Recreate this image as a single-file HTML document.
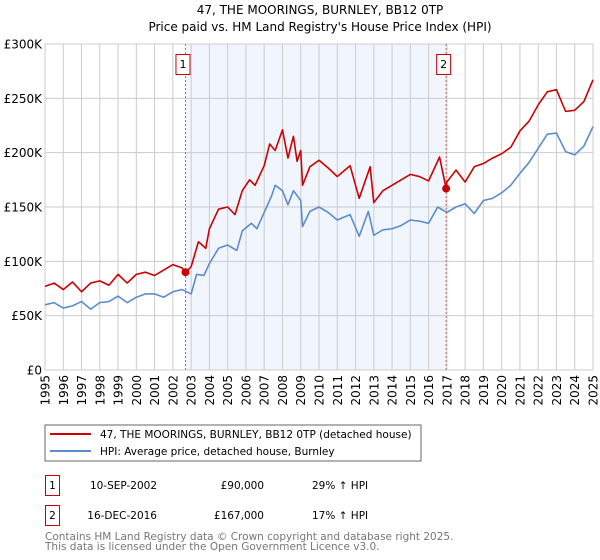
<!DOCTYPE html>
<html><head><meta charset="utf-8"><style>
body{margin:0;background:#fff;width:600px;height:560px;overflow:hidden}
svg{display:block;font-family:"DejaVu Sans","Liberation Sans",sans-serif}
</style></head><body>
<svg id="c" width="600" height="560">
<text x="320" y="14" text-anchor="middle" font-size="12">47, THE MOORINGS, BURNLEY, BB12 0TP</text>
<text x="320" y="31" text-anchor="middle" font-size="12">Price paid vs. HM Land Registry's House Price Index (HPI)</text>
<g id="plot"></g>
<rect x="45" y="425" width="376" height="36" fill="none" stroke="#666"/>
<line x1="50" y1="434" x2="91" y2="434" stroke="#cc0000" stroke-width="2"/>
<text x="100" y="438" font-size="10.5">47, THE MOORINGS, BURNLEY, BB12 0TP (detached house)</text>
<line x1="50" y1="451" x2="91" y2="451" stroke="#5b8cd0" stroke-width="2"/>
<text x="100" y="455" font-size="10.5">HPI: Average price, detached house, Burnley</text>
<g font-size="10.5">
<rect x="45.5" y="475.5" width="14" height="20" fill="none" stroke="#cc0000"/>
<text x="52.5" y="489" text-anchor="middle">1</text>
<text x="157" y="489" text-anchor="end">10-SEP-2002</text>
<text x="264" y="489" text-anchor="end">£90,000</text>
<text x="312" y="489">29% ↑ HPI</text>
<rect x="45.5" y="505.5" width="14" height="20" fill="none" stroke="#cc0000"/>
<text x="52.5" y="519" text-anchor="middle">2</text>
<text x="157" y="519" text-anchor="end">16-DEC-2016</text>
<text x="264" y="519" text-anchor="end">£167,000</text>
<text x="312" y="519">17% ↑ HPI</text>
</g>
<text x="45" y="540" font-size="10.5" fill="#777">Contains HM Land Registry data © Crown copyright and database right 2025.</text>
<text x="45" y="550" font-size="10.5" fill="#777">This data is licensed under the Open Government Licence v3.0.</text>
</svg>
<script>
const yTicks=[0,50,100,150,200,250,300];
const yTickLabels=["£0","£50K","£100K","£150K","£200K","£250K","£300K"];
const xYears=[1995,1996,1997,1998,1999,2000,2001,2002,2003,2004,2005,2006,2007,2008,2009,2010,2011,2012,2013,2014,2015,2016,2017,2018,2019,2020,2021,2022,2023,2024,2025];
const hpiYears=[1995,1995.5,1996,1996.5,1997,1997.5,1998,1998.5,1999,1999.5,2000,2000.5,2001,2001.5,2002,2002.5,2003,2003.3,2003.7,2004,2004.5,2005,2005.5,2005.8,2006.3,2006.6,2007,2007.4,2007.6,2008,2008.3,2008.6,2009,2009.1,2009.5,2010,2010.5,2011,2011.7,2012.2,2012.7,2013,2013.5,2014,2014.5,2015,2015.5,2016,2016.5,2017,2017.5,2018,2018.5,2019,2019.5,2020,2020.5,2021,2021.5,2022,2022.5,2023,2023.5,2024,2024.5,2025];
const hpiValues=[60,62,57,59,63,56,62,63,68,62,67,70,70,67,72,74,70,88,87,98,112,115,110,128,135,130,145,160,170,165,152,165,156,132,146,150,145,138,143,123,146,124,129,130,133,138,137,135,150,145,150,153,144,156,158,163,170,181,191,204,217,218,201,198,206,224];
const priceYears=[1995,1995.5,1996,1996.5,1997,1997.5,1998,1998.5,1999,1999.5,2000,2000.5,2001,2001.5,2002,2002.5,2002.7,2003,2003.4,2003.8,2004,2004.5,2005,2005.4,2005.8,2006.2,2006.5,2007,2007.3,2007.6,2008,2008.3,2008.6,2008.8,2009,2009.1,2009.5,2010,2010.5,2011,2011.7,2012.2,2012.8,2013,2013.5,2014,2014.5,2015,2015.5,2016,2016.6,2016.96,2017,2017.5,2018,2018.5,2019,2019.5,2020,2020.5,2021,2021.5,2022,2022.5,2023,2023.5,2024,2024.5,2025];
const priceValues=[77,80,74,81,72,80,82,78,88,80,88,90,87,92,97,94,90,95,118,112,130,148,150,143,165,175,170,188,208,202,221,195,215,192,202,170,187,193,186,178,188,158,187,154,165,170,175,180,178,174,196,167,173,184,173,187,190,195,199,205,220,229,244,256,258,238,239,247,267];
const sales=[[2002.69,90],[2016.96,167]];
const X0=45,X1=593,Y0=370,Y1=44;
const xs=y=>X0+(y-1995)/30*(X1-X0);
const ys=v=>Y0-v/300*(Y0-Y1);
const NS="http://www.w3.org/2000/svg";
const g=document.getElementById('plot');
function mk(t,a){const e=document.createElementNS(NS,t);for(const k in a)e.setAttribute(k,a[k]);g.appendChild(e);return e;}
let e=mk('rect',{x:xs(sales[0][0]),y:Y1,width:xs(sales[1][0])-xs(sales[0][0]),height:Y0-Y1,fill:'#f0f5fe'});


xYears.forEach(yr=>{
 const l=mk('line',{x1:xs(yr),x2:xs(yr),y1:Y1,y2:Y0,stroke:'#ccc'});
 
 
 const t=mk('text',{x:0,y:0,'font-size':12,'text-anchor':'end',transform:`translate(${xs(yr)+4.5},${Y0+5}) rotate(-90)`});
 t.textContent=yr;
 
 
});
yTicks.forEach((v,i)=>{
 const l=mk('line',{x1:X0,x2:X1,y1:ys(v),y2:ys(v),stroke:'#ccc'});
 
 
 const t=mk('text',{x:X0-3,y:ys(v)+4.5,'font-size':12,'text-anchor':'end'});
 t.textContent=yTickLabels[i];
 
 
});
sales.forEach((s,i)=>{
 const l=mk('line',{x1:xs(s[0]),x2:xs(s[0]),y1:Y1,y2:Y0,stroke:'#e06060','stroke-dasharray':'2,2'});
 
 
 const r=mk('rect',{x:xs(s[0])-9.5,y:54.5,width:14,height:20,fill:'#fff',stroke:'#cc0000'});
 
 
 const t=mk('text',{x:xs(s[0])-2.5,y:68,'font-size':11,'text-anchor':'middle'});
 t.textContent=i+1;
 
 
});
const path=(ys_,vs,col)=>mk('polyline',{points:ys_.map((y,i)=>xs(y)+','+ys(vs[i])).join(' '),fill:'none',stroke:col,'stroke-width':1.6,'stroke-linejoin':'round'});
e=path(hpiYears,hpiValues,'#5b8cd0');


e=path(priceYears,priceValues,'#cc0000');


sales.forEach(s=>{
 const c=mk('circle',{cx:xs(s[0]),cy:ys(s[1]),r:4,fill:'#cc0000'});
 
 
});
</script>
</body></html>
